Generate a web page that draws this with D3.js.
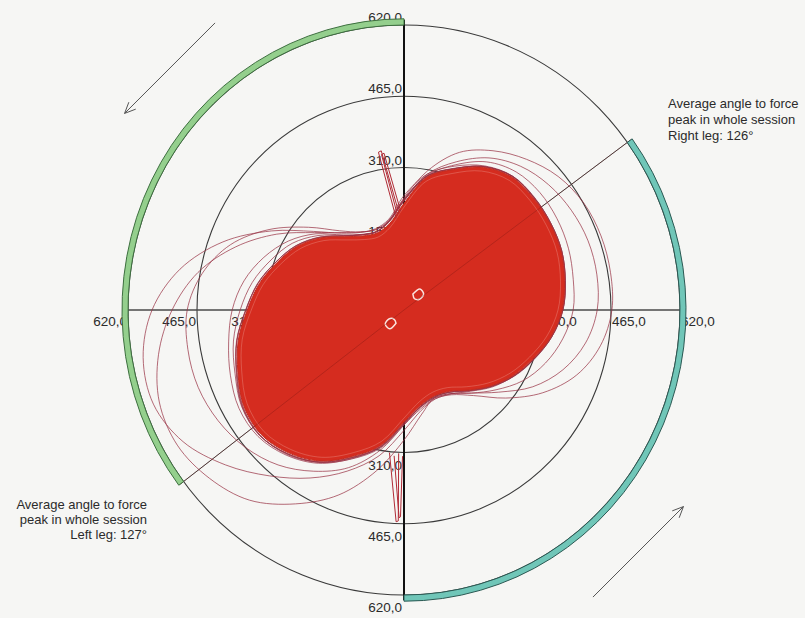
<!DOCTYPE html>
<html>
<head>
<meta charset="utf-8">
<script src="https://cdn.jsdelivr.net/npm/d3@7"></script>
<style>
  body { margin: 0; background: #f6f6f4; }
  svg { display: block; }
  text { font-family: "Liberation Sans", Arial, sans-serif; fill: #2b2b2b; }
</style>
</head>
<body>
<svg id="chart" width="805" height="618"></svg>
<script>
// Force rings (N) and their labels
const ringValues = [155, 310, 465, 620];
const ringLabels = ["155,0", "310,0", "465,0", "620,0"];
const maxForce = 620;

// Crank angle in degrees, clockwise from top
const angles = [0, 10, 20, 30, 40, 50, 60, 70, 80, 90, 100, 110, 120, 130, 140, 150, 160, 170,
                180, 190, 200, 210, 220, 230, 240, 250, 260, 270, 280, 290, 300, 310, 320, 330, 340, 350];

// Outer envelope of the dense bundle of pedal strokes (N)
const strokeEnvelope = [232, 293, 325, 358, 377, 379, 378, 375, 366, 355, 335, 309, 284, 256, 227, 204, 199, 211,
                        244, 299, 339, 379, 405, 420, 416, 397, 378, 352, 330, 303, 277, 244, 208, 186, 178, 190];
// Light gap line just inside the envelope
const innerGap = [224, 284, 316, 349, 368, 370, 369, 366, 357, 346, 326, 300, 275, 247, 218, 195, 190, 202,
                  235, 290, 330, 370, 396, 411, 407, 388, 369, 343, 321, 294, 268, 235, 199, 177, 169, 182];

// Individual strokes that leave the bundle
const strokeR1 = [244, 308, 365, 400, 428, 452, 466, 471, 471, 467, 448, 413, 360, 298, 243, 213, 205, 218,
                  250, 305, 345, 383, 410, 423, 418, 399, 382, 355, 334, 306, 280, 246, 211, 189, 181, 196];
const strokeR2 = [240, 300, 343, 382, 408, 424, 434, 440, 440, 434, 414, 380, 334, 278, 236, 210, 203, 215,
                  248, 303, 342, 382, 408, 424, 420, 401, 381, 356, 333, 306, 280, 247, 210, 189, 181, 196];
const strokeR3 = [238, 297, 336, 372, 392, 398, 397, 393, 386, 380, 362, 338, 308, 270, 236, 210, 203, 214,
                  247, 302, 342, 382, 408, 423, 419, 400, 381, 355, 333, 306, 279, 246, 210, 189, 181, 196];
const strokeL1 = [249, 300, 333, 362, 380, 380, 377, 373, 364, 353, 333, 311, 286, 260, 231, 211, 206, 222,
                  262, 322, 373, 422, 471, 524, 573, 599, 595, 566, 511, 433, 344, 266, 218, 195, 188, 200];
const strokeL2 = [242, 296, 328, 360, 380, 382, 380, 377, 368, 357, 337, 312, 287, 258, 229, 207, 202, 230,
                  283, 355, 428, 487, 540, 570, 588, 585, 560, 521, 470, 402, 330, 262, 220, 196, 186, 198];
const strokeL3 = [240, 296, 327, 360, 379, 381, 379, 376, 367, 356, 336, 310, 285, 257, 228, 206, 200, 213,
                  250, 310, 365, 405, 440, 465, 482, 492, 493, 487, 460, 415, 350, 280, 225, 196, 186, 196];
const strokeL4 = [238, 295, 327, 360, 379, 381, 380, 377, 368, 357, 337, 311, 286, 258, 229, 206, 201, 213,
                  246, 302, 344, 385, 412, 428, 428, 415, 400, 386, 365, 335, 300, 258, 213, 190, 182, 195];
const strokeL5 = [237, 295, 327, 360, 379, 381, 380, 377, 368, 357, 337, 311, 286, 258, 229, 206, 201, 213,
                  246, 301, 341, 381, 408, 424, 421, 404, 389, 368, 346, 318, 290, 252, 212, 189, 181, 194];

// Narrow force spikes, [angle, force]
const spikeTop = [[355, 200], [350.5, 348], [351.6, 350], [357, 210]];
const spikeTop2 = [[356, 206], [351.5, 342], [352.5, 344], [358, 215]];
const spikeBottom = [[186, 312], [182.2, 461], [181.6, 459], [182.2, 312]];
const spikeBottom2 = [[184, 318], [181.4, 452], [181, 450], [180.6, 318]];

// Small loops around the crank centre, [angle, force]
const centreLoopA = [[30, 40], [38, 58], [52, 56], [56, 42], [44, 34], [30, 40]];
const centreLoopB = [[212, 34], [218, 52], [234, 52], [240, 38], [226, 30], [212, 34]];

// Average angle to force peak per leg (degrees)
const rightLegAngle = 126;
const leftLegAngle = 127;
const rightLegText = ["Average angle to force", "peak in whole session", "Right leg: " + rightLegAngle + "°"];
const leftLegText = ["Average angle to force", "peak in whole session", "Left leg: " + leftLegAngle + "°"];

// Layout
const cx = 404, cy = 310, radiusX = 276, squash = 285 / 276;
const deg = Math.PI / 180;

const svg = d3.select("#chart");
svg.append("rect").attr("width", 805).attr("height", 618).attr("fill", "#f6f6f4");

const rScale = d3.scaleLinear().domain([0, maxForce]).range([0, radiusX]);
const px = (a, v) => cx + rScale(v) * Math.sin(a * deg);
const py = (a, v) => cy - rScale(v) * squash * Math.cos(a * deg);

// Layers, bottom to top
const polarLayer = () => svg.append("g").attr("transform", `translate(${cx},${cy}) scale(1,${squash})`);
const gridLayer = polarLayer();
const labelLayer = svg.append("g").attr("font-size", 13.5);
const leaderLayer = svg.append("g");
const traceLayer = polarLayer();
const bundleLayer = polarLayer();
const overLayer = svg.append("g");
const bandLayer = polarLayer();
const arrowLayer = svg.append("g");
const noteLayer = svg.append("g").attr("font-size", 13);

const closedRadial = d3.lineRadial()
  .angle(d => d[0] * deg)
  .radius(d => rScale(d[1]))
  .curve(d3.curveCatmullRomClosed.alpha(0.5));
const openRadial = d3.lineRadial()
  .angle(d => d[0] * deg)
  .radius(d => rScale(d[1]))
  .curve(d3.curveLinear);
const pairs = vals => angles.map((a, i) => [a, vals[i]]);

// Rings
gridLayer.selectAll("circle.ring").data(ringValues).join("circle")
  .attr("class", "ring")
  .attr("r", d => rScale(d))
  .attr("fill", "none")
  .attr("stroke", "#3a3a3a")
  .attr("stroke-width", 1.1)
  .attr("vector-effect", "non-scaling-stroke");

// Axes
gridLayer.append("line")
  .attr("x1", -rScale(maxForce)).attr("x2", rScale(maxForce)).attr("y1", 0).attr("y2", 0)
  .attr("stroke", "#4a4a4a").attr("stroke-width", 1.4).attr("vector-effect", "non-scaling-stroke");
gridLayer.append("line")
  .attr("x1", 0).attr("x2", 0).attr("y1", -rScale(maxForce) - 5).attr("y2", rScale(maxForce) + 5)
  .attr("stroke", "#111").attr("stroke-width", 2).attr("vector-effect", "non-scaling-stroke");

// Ring labels on the four half-axes
ringValues.forEach((v, i) => {
  const t = ringLabels[i];
  labelLayer.append("text").attr("x", cx - 2).attr("y", py(0, v) - 3).attr("text-anchor", "end").text(t);
  labelLayer.append("text").attr("x", cx - 2).attr("y", py(180, v) + 17).attr("text-anchor", "end").text(t);
  labelLayer.append("text").attr("x", px(270, v) - 1).attr("y", cy + 16).attr("text-anchor", "end").text(t);
  labelLayer.append("text").attr("x", px(90, v) + 1).attr("y", cy + 16).attr("text-anchor", "start").text(t);
});

// Leader lines from the centre to the average peak angles
const leaderAngles = [180 - rightLegAngle, 360 - leftLegAngle];
const leaderEnd = maxForce * 1.015;
leaderLayer.selectAll("line").data(leaderAngles).join("line")
  .attr("x1", cx).attr("y1", cy)
  .attr("x2", a => px(a, leaderEnd)).attr("y2", a => py(a, leaderEnd))
  .attr("stroke", "#444").attr("stroke-width", 1);

// Strokes that leave the bundle
const outliers = [strokeR1, strokeR2, strokeR3, strokeL1, strokeL2, strokeL3, strokeL4, strokeL5];
traceLayer.selectAll("path").data(outliers).join("path")
  .attr("d", d => closedRadial(pairs(d)))
  .attr("fill", "none")
  .attr("stroke", "#983244")
  .attr("stroke-opacity", 0.72)
  .attr("stroke-width", 1)
  .attr("vector-effect", "non-scaling-stroke");

// Dense bundle of pedal strokes
bundleLayer.append("path")
  .attr("d", closedRadial(pairs(strokeEnvelope)))
  .attr("fill", "#d52c1f")
  .attr("stroke", "#c42b1f")
  .attr("stroke-width", 1)
  .attr("vector-effect", "non-scaling-stroke");
bundleLayer.append("path")
  .attr("d", closedRadial(pairs(innerGap)))
  .attr("fill", "none")
  .attr("stroke", "#f2b0a6")
  .attr("stroke-opacity", 0.4)
  .attr("stroke-width", 0.8)
  .attr("vector-effect", "non-scaling-stroke");

// Spikes
bundleLayer.selectAll("path.spike").data([spikeTop, spikeTop2, spikeBottom, spikeBottom2]).join("path")
  .attr("class", "spike")
  .attr("d", d => openRadial(d))
  .attr("fill", "none")
  .attr("stroke", "#b02a35")
  .attr("stroke-width", 1)
  .attr("vector-effect", "non-scaling-stroke");

// Loops near the crank centre
bundleLayer.selectAll("path.centre").data([centreLoopA, centreLoopB]).join("path")
  .attr("class", "centre")
  .attr("d", d => d3.lineRadial().angle(p => p[0] * deg).radius(p => rScale(p[1]))
    .curve(d3.curveCatmullRomClosed)(d))
  .attr("fill", "none")
  .attr("stroke", "#fbe3de")
  .attr("stroke-width", 1.5)
  .attr("vector-effect", "non-scaling-stroke");

// Leader lines faintly visible through the bundle
overLayer.selectAll("line").data(leaderAngles).join("line")
  .attr("x1", cx).attr("y1", cy)
  .attr("x2", a => px(a, leaderEnd)).attr("y2", a => py(a, leaderEnd))
  .attr("stroke", "#6b1510").attr("stroke-opacity", 0.3).attr("stroke-width", 1);

// Bands marking each leg's average peak angle
const band = d3.arc().innerRadius(rScale(maxForce)).outerRadius(rScale(maxForce) + 6);
bandLayer.append("path")
  .attr("d", band({ startAngle: (360 - leftLegAngle) * deg, endAngle: 360 * deg }))
  .attr("fill", "#94cf8d").attr("stroke", "#3d6f3f").attr("stroke-width", 1)
  .attr("vector-effect", "non-scaling-stroke");
bandLayer.append("path")
  .attr("d", band({ startAngle: (180 - rightLegAngle) * deg, endAngle: 180 * deg }))
  .attr("fill", "#70c6b8").attr("stroke", "#2b5953").attr("stroke-width", 1)
  .attr("vector-effect", "non-scaling-stroke");

// Rotation direction arrows (counter-clockwise)
const arrowAngles = [315, 135];
const arrowRadius = maxForce * 1.2, arrowHalf = 64, headLen = 12;
arrowAngles.forEach(a => {
  const mx = px(a, arrowRadius), my = py(a, arrowRadius);
  const dx = -Math.cos(a * deg), dy = -Math.sin(a * deg);
  const x1 = mx - dx * arrowHalf, y1 = my - dy * arrowHalf;
  const x2 = mx + dx * arrowHalf, y2 = my + dy * arrowHalf;
  const g = arrowLayer.append("g").attr("stroke", "#555").attr("stroke-width", 1).attr("fill", "none");
  g.append("line").attr("x1", x1).attr("y1", y1).attr("x2", x2).attr("y2", y2);
  const back = Math.atan2(-dy, -dx);
  [-0.42, 0.42].forEach(s => {
    g.append("line").attr("x1", x2).attr("y1", y2)
      .attr("x2", x2 + headLen * Math.cos(back + s))
      .attr("y2", y2 + headLen * Math.sin(back + s));
  });
});

// Annotations
rightLegText.forEach((t, i) => {
  noteLayer.append("text").attr("x", 668).attr("y", 108 + i * 16).attr("text-anchor", "start").text(t);
});
leftLegText.forEach((t, i) => {
  noteLayer.append("text").attr("x", 147).attr("y", 509 + i * 15).attr("text-anchor", "end").text(t);
});
</script>
</body>
</html>
